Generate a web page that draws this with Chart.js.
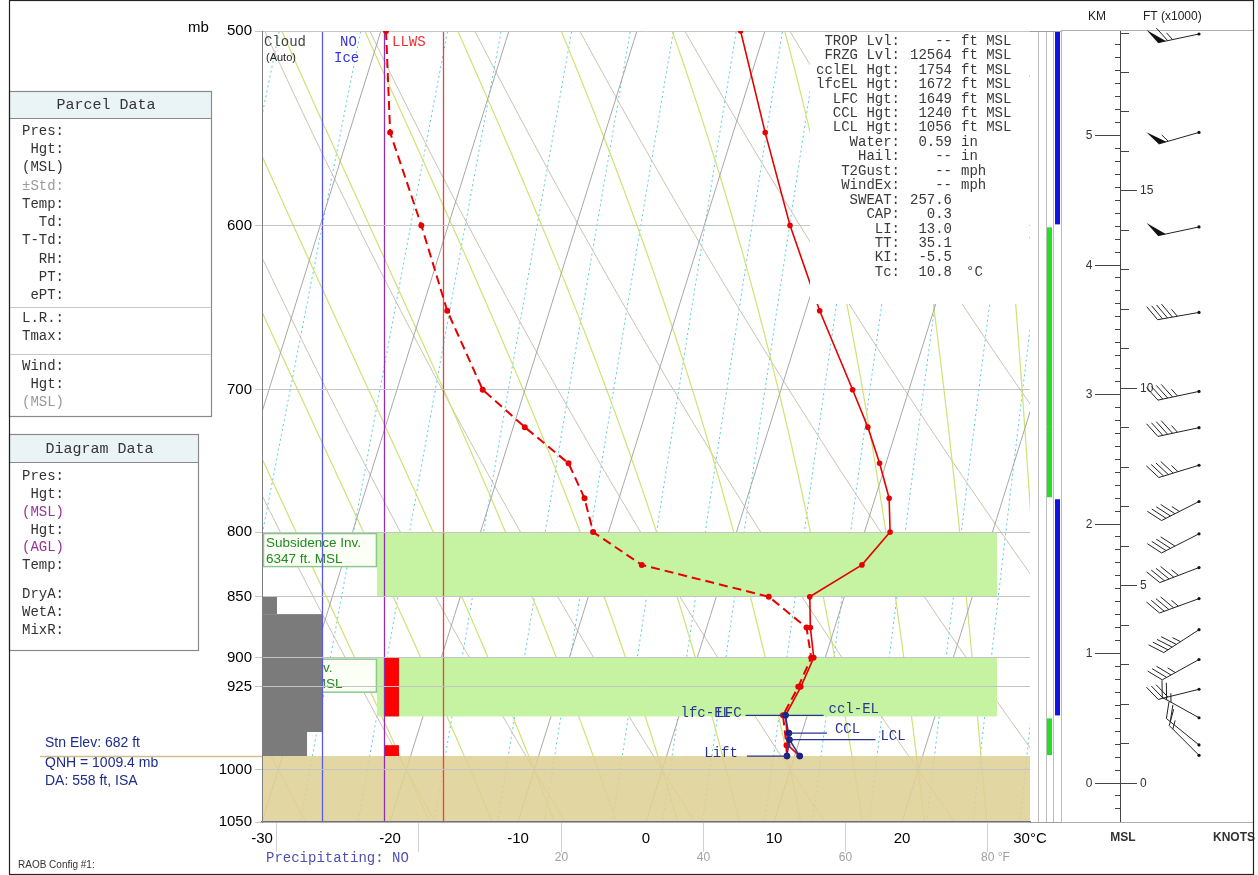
<!DOCTYPE html>
<html><head><meta charset="utf-8"><title>Skew-T</title>
<script src="https://cdn.jsdelivr.net/npm/chart.js@4.4.1/dist/chart.umd.min.js"></script>
<style>
html,body{margin:0;padding:0;background:#fff;}
#c{display:block}
</style></head><body>
<canvas id="c" width="1258" height="875"></canvas>
<script>
// ================= DATA =================
const yTicks   = [500,600,700,800,850,900,925,1000,1050];
const tempPres = [500,550,600,650,700,725,750,775,800,825,850,875,900,925,950,977,987];
const tempC    = [-11.9,-7.5,-3.3,1.1,5.6,7.7,9.5,11.1,12.0,10.6,7.3,8.1,9.1,8.8,8.3,9.2,10.4];
const dewPres  = [500,550,600,650,700,725,750,775,800,825,850,875,900,925,950,977,987];
const dewC     = [-39.6,-36.8,-32.1,-28.0,-23.3,-19.1,-14.8,-12.7,-11.2,-6.6,4.1,7.8,8.9,8.6,8.1,9.1,9.4];
const parcelPres = [987,972,950];
const parcelT    = [10.4,9.2,8.3];
const parcelDewPres = [987,972];
const parcelDewT    = [9.4,9.2];
const levelNames = ['Lift','LCL','CCL','lfc-EL'];
const levelPres  = [987,972,966,950];
const levelT     = [9.4,9.2,9.0,8.3];
const stnPres = 987;
// inversion layers (mb)
const invTop = [800,900];
const invBot = [850,951];
const invText1 = ['Subsidence Inv.','Frontal Inv.'];
const invText2 = ['6347 ft. MSL','2247 ft. MSL'];
// cloud column layers (mb) and cover extent (axis units)
const cloudTop = [850,864,965];
const cloudBot = [864,965,987];
const cloudRight = [-28.83,-25.31,-26.48];
// LLWS layers
const llwsTop = [900,977];
const llwsBot = [951,987];
// right strip bars
const stripTop = [500,600,775,951];
const stripBot = [600,775,951,987];
const stripType = ['b','g','b','g'];
// winds
const windKm  = [5.78,5.02,4.29,3.63,3.02,2.74,2.45,2.17,1.92,1.66,1.42,1.18,0.95,0.72,0.50,0.29,0.21];
const windDir = [258,254,258,260,258,258,253,243,243,249,250,237,241,256,299,309,315];
const windSpd = [65,55,50,45,45,45,45,45,40,45,45,45,35,30,25,20,15];
// background reference lines
const isotherms = [-100,-90,-80,-70,-60,-50,-40,-30,-20,-10,0,10,20,30,40];
const dryThetaC = [-70,-60,-50,-40,-30,-20,-10,0,10,20,30,40,50,60,70,80,90,100,110,120,130,140,150];
const moistStarts = [-20,-15,-10,-5,0,5,10,15,20,25,30,35];
const mixRatios = [0.1,0.2,0.4,0.6,1,1.5,2,3,4,5,7,9,12,16,20,25,30];
// text panels
const statLabels = ['TROP Lvl:','FRZG Lvl:','cclEL Hgt:','lfcEL Hgt:','LFC Hgt:','CCL Hgt:','LCL Hgt:','Water:','Hail:','T2Gust:','WindEx:','SWEAT:','CAP:','LI:','TT:','KI:','Tc:'];
const statValues = ['--','12564','1754','1672','1649','1240','1056','0.59','--','--','--','257.6','0.3','13.0','35.1','-5.5','10.8'];
const statUnits  = ['ft MSL','ft MSL','ft MSL','ft MSL','ft MSL','ft MSL','ft MSL','in','in','mph','mph','','','','','','°C'];
const parcelRows = ['Pres:','Hgt:','(MSL)','±Std:','Temp:','Td:','T-Td:','RH:','PT:','ePT:','L.R.:','Tmax:','Wind:','Hgt:','(MSL)'];
const parcelRowY = [131,149,167,186,204,222,240,259,277,295,318,336,366,384,402];
const diagRows = ['Pres:','Hgt:','(MSL)','Hgt:','(AGL)','Temp:','DryA:','WetA:','MixR:'];
const diagRowY = [476,494,512,530,547,565,594,612,630];
const fahrTicks = [-20,0,20,40,60,80];

// ================= HELPERS =================
const SKEW = 26;
function skewX(T,p){ return T + SKEW*Math.log(1050/p); }
const MONO = '"Liberation Mono","DejaVu Sans Mono",monospace';
const SANS = '"Liberation Sans",Arial,sans-serif';
function satVap(Tc){ return 6.112*Math.exp(17.67*Tc/(Tc+243.5)); }
function satMix(Tc,p){ const e=satVap(Tc); return 0.622*e/(p-e); }
function moistLapse(Tc,p){
  const T=Tc+273.15, rs=satMix(Tc,p), Rd=287.04, cp=1005.7, Lv=2.501e6, eps=0.622;
  return ((Rd*T + Lv*rs)/p)/(cp + (Lv*Lv*rs*eps)/(Rd*T*T));
}
function moistProfile(t0){
  const m={}; let T=t0; m[1000]=T;
  for(let p=1000;p>470;p--){ const k1=moistLapse(T,p); const k2=moistLapse(T-k1*0.5,p-0.5); T-=k2; m[p-1]=T; }
  T=t0; for(let p=1000;p<1070;p++){ const k1=moistLapse(T,p); const k2=moistLapse(T+k1*0.5,p+0.5); T+=k2; m[p+1]=T; }
  return p=>m[p];
}

// ================= PLUGINS =================
const bgPlugin = {
  id:'bg',
  beforeDraw(chart){
    const {ctx, chartArea:a, scales} = chart; const xs=scales.x, ys=scales.y;
    const PX=(T,p)=>xs.getPixelForValue(skewX(T,p)), PY=p=>ys.getPixelForValue(p), AX=v=>xs.getPixelForValue(v);
    ctx.save();
    ctx.beginPath(); ctx.rect(a.left,a.top,a.right-a.left,a.bottom-a.top); ctx.clip();
    const plist=[]; for(let p=480;p<=1060;p+=5) plist.push(p);
    function curve(fn,color,w,dash){
      ctx.beginPath();
      plist.forEach((p,i)=>{ const X=PX(fn(p),p), Y=PY(p); i?ctx.lineTo(X,Y):ctx.moveTo(X,Y); });
      ctx.strokeStyle=color; ctx.lineWidth=w; ctx.setLineDash(dash||[]); ctx.stroke();
    }
    mixRatios.forEach(w=>curve(p=>{ const r=w/1000; const e=r*p/(0.622+r); const l=Math.log(e/6.112); return 243.5*l/(17.67-l); }, '#55cbe4', 1, [2,3]));
    dryThetaC.forEach(tc=>curve(p=>(tc+273.15)*Math.pow(p/1000,0.2857)-273.15,'#cac2b2',1));
    moistStarts.forEach(t0=>{ const f=moistProfile(t0); curve(f,'#cfe274',1.2); });
    isotherms.forEach(T=>curve(()=>T,'#a6a6a6',1));
    ctx.setLineDash([]);
    // ground
    ctx.fillStyle='rgba(222,208,150,0.88)';
    ctx.fillRect(a.left, PY(stnPres), a.right-a.left, a.bottom-PY(stnPres));
    // inversion bands
    invTop.forEach((t,i)=>{
      ctx.fillStyle='#c6f3a2';
      ctx.fillRect(AX(-21.02), PY(t), AX(27.42)-AX(-21.02), PY(invBot[i])-PY(t));
      const y0=PY(t), h=34;
      ctx.fillStyle='#fbfff6'; ctx.fillRect(a.left+1, y0+1, AX(-21.02)-a.left-1, h);
      ctx.strokeStyle='#8cc88c'; ctx.lineWidth=1.5; ctx.strokeRect(a.left+1.5, y0+1.5, AX(-21.02)-a.left-2, h-1);
      ctx.fillStyle='#1f8a1f'; ctx.font='13.5px '+SANS; ctx.textAlign='left'; ctx.textBaseline='middle';
      ctx.fillText(invText1[i], a.left+4, y0+11); ctx.fillText(invText2[i], a.left+4, y0+27);
    });
    // cloud column
    ctx.fillStyle='#7b7b7b';
    cloudTop.forEach((t,i)=>{ ctx.fillRect(a.left, PY(t), AX(cloudRight[i])-a.left, PY(cloudBot[i])-PY(t)); });
    // LLWS bars
    ctx.fillStyle='#ff0000';
    llwsTop.forEach((t,i)=>{ ctx.fillRect(AX(-20.47), PY(t), AX(-19.30)-AX(-20.47), PY(llwsBot[i])-PY(t)); });
    // column lines
    const col=(v,c)=>{ const X=Math.round(AX(v))+0.5; ctx.beginPath(); ctx.moveTo(X,a.top); ctx.lineTo(X,a.bottom); ctx.strokeStyle=c; ctx.lineWidth=1.3; ctx.stroke(); };
    col(-25.31,'#5a5ae6'); col(-20.47,'#9030b0'); col(-15.86,'#f04040');
    ctx.restore();
    // right strip
    ctx.save();
    [1038.5,1046.5,1053.5,1061.5].forEach(X=>{ ctx.beginPath(); ctx.moveTo(X,a.top); ctx.lineTo(X,a.bottom); ctx.strokeStyle='#bdbdbd'; ctx.lineWidth=1; ctx.stroke(); });
    stripTop.forEach((t,i)=>{
      if(stripType[i]==='b'){ ctx.fillStyle='#1212e8'; ctx.fillRect(1055, PY(t)+1, 5, PY(stripBot[i])-PY(t)-2); }
      else { ctx.fillStyle='#22e022'; ctx.fillRect(1047, PY(t)+2, 5, PY(stripBot[i])-PY(t)-3); }
    });
    ctx.beginPath(); ctx.moveTo(a.right,a.top+0.5); ctx.lineTo(1061,a.top+0.5); ctx.moveTo(a.right,a.bottom+0.5); ctx.lineTo(1061,a.bottom+0.5);
    ctx.strokeStyle='#a0a0a0'; ctx.stroke();
    ctx.restore();
  },
  afterDatasetsDraw(chart){
    const {ctx, chartArea:a, scales} = chart; const xs=scales.x, ys=scales.y;
    const PX=(T,p)=>xs.getPixelForValue(skewX(T,p)), PY=p=>ys.getPixelForValue(p);
    ctx.save();
    // stats box
    ctx.fillStyle='#fff'; ctx.fillRect(810, a.top+1, a.right-810-1, 303-a.top);
    ctx.font='14px '+MONO; ctx.fillStyle='#3a3a3a'; ctx.textBaseline='middle';
    statLabels.forEach((s,i)=>{
      const Y=41+i*14.45;
      ctx.textAlign='right'; ctx.fillText(s, 900, Y); ctx.fillText(statValues[i], 952, Y);
      ctx.textAlign='left'; ctx.fillText(statUnits[i], i===16?966:961, Y);
    });
    // column headers
    ctx.textAlign='left';
    ctx.font='14px '+MONO; ctx.fillStyle='#444'; ctx.fillText('Cloud', 264, 42);
    ctx.font='11px '+SANS; ctx.fillStyle='#222'; ctx.fillText('(Auto)', 266, 58);
    ctx.font='14px '+MONO; ctx.fillStyle='#3434e0'; ctx.fillText('NO', 340, 42); ctx.fillText('Ice', 334, 58);
    ctx.fillStyle='#f03030'; ctx.fillText('LLWS', 392, 42);
    // parcel level markers lines & labels
    const lx = levelT.map((t,i)=>PX(t,levelPres[i])), ly = levelPres.map(p=>PY(p));
    ctx.strokeStyle='#2a3590'; ctx.lineWidth=1.3;
    const seg=(x1,y,x2)=>{ ctx.beginPath(); ctx.moveTo(x1,y); ctx.lineTo(x2,y); ctx.stroke(); };
    seg(lx[0]-40, ly[0], lx[0]);        // Lift
    seg(lx[1], ly[1], lx[1]+86);        // LCL
    seg(lx[2], ly[2], lx[2]+38);        // CCL
    seg(lx[3]-40, ly[3], lx[3]);        // lfc-EL / LFC
    seg(lx[3]+2, ly[3], lx[3]+38);      // ccl-EL
    ctx.font='14px '+MONO; ctx.fillStyle='#2a3590'; ctx.textBaseline='middle';
    ctx.textAlign='right'; ctx.fillText('Lift', lx[0]-49, ly[0]-3);
    ctx.fillText('LFC', lx[3]-44, ly[3]-2);
    ctx.textAlign='left'; ctx.fillText('lfc-EL', lx[3]-105, ly[3]-2);
    ctx.fillText('LCL', lx[1]+91, ly[1]-3);
    ctx.fillText('CCL', lx[2]+46, ly[2]-4); ctx.fillText('ccl-EL', lx[3]+43, ly[3]-6);
    ctx.restore();
  },
  afterDraw(chart){
    const {ctx, chartArea:a, scales} = chart; const xs=scales.x, yk=scales.yk;
    ctx.save();
    ctx.textBaseline='middle';
    // mb label
    ctx.font='15px '+SANS; ctx.fillStyle='#000'; ctx.textAlign='left'; ctx.fillText('mb', 188, 28);
    // Fahrenheit
    ctx.strokeStyle='#d0d0d0'; ctx.lineWidth=1; ctx.font='12px '+SANS; ctx.fillStyle='#a0a0a0'; ctx.textAlign='center';
    fahrTicks.forEach(f=>{ const X=Math.round(xs.getPixelForValue((f-32)*5/9))+0.5; ctx.beginPath(); ctx.moveTo(X,a.bottom+1); ctx.lineTo(X,852); ctx.stroke();
      if(f>0) ctx.fillText(f===80?'80 °F':String(f), X+(f===80?8:0), 858); });
    ctx.font='14px '+MONO; ctx.fillStyle='#5050b4'; ctx.textAlign='left'; ctx.fillText('Precipitating: NO', 266, 858);
    // left bottom texts
    ctx.font='14px '+SANS; ctx.fillStyle='#1c2c8c';
    ctx.fillText('Stn Elev: 682 ft', 45, 743); ctx.fillText('QNH = 1009.4 mb', 45, 763); ctx.fillText('DA: 558 ft, ISA', 45, 781);
    ctx.strokeStyle='#cfc08a'; ctx.lineWidth=1.5; ctx.beginPath(); ctx.moveTo(40, 756.5); ctx.lineTo(a.left, 756.5); ctx.stroke();
    ctx.font='10px '+SANS; ctx.fillStyle='#333'; ctx.fillText('RAOB Config #1:', 18, 865);
    // panels
    function panel(x,y,w,hh,h,title,rows,rowY,colors){
      ctx.fillStyle='#eaf4f7'; ctx.fillRect(x,y,w,hh);
      ctx.strokeStyle='#8a8a8a'; ctx.lineWidth=1.2; ctx.strokeRect(x+0.5,y+0.5,w,h);
      ctx.beginPath(); ctx.moveTo(x,y+hh+0.5); ctx.lineTo(x+w,y+hh+0.5); ctx.stroke();
      ctx.font='15px '+MONO; ctx.fillStyle='#333'; ctx.textAlign='center'; ctx.fillText(title, x+w/2-4, y+hh/2+1);
      ctx.font='14px '+MONO; ctx.textAlign='right';
      rows.forEach((r,i)=>{ ctx.fillStyle=colors[i]; ctx.fillText(r, 64, rowY[i]); });
    }
    const pc = parcelRows.map((r,i)=>(i===3||i===14)?'#9a9a9a':'#333');
    panel(9,91,202,27,325,'Parcel Data',parcelRows,parcelRowY,pc);
    ctx.strokeStyle='#c8c8c8'; ctx.lineWidth=1;
    [307.5,354.5].forEach(Y=>{ctx.beginPath(); ctx.moveTo(10,Y); ctx.lineTo(211,Y); ctx.stroke();});
    const dc = diagRows.map(r=>(r==='(MSL)'||r==='(AGL)')?'#993399':'#333');
    panel(9,434,189,28,216,'Diagram Data',diagRows,diagRowY,dc);
    // wind panel
    ctx.strokeStyle='#b0b0b0'; ctx.lineWidth=1;
    ctx.beginPath(); ctx.moveTo(1061,30.5); ctx.lineTo(1253,30.5); ctx.moveTo(1061,822.5); ctx.lineTo(1253,822.5); ctx.stroke();
    ctx.font='12px '+SANS; ctx.fillStyle='#222'; ctx.textAlign='left';
    ctx.fillText('KM', 1088, 17); ctx.fillText('FT (x1000)', 1143, 17);
    ctx.font='bold 12px '+SANS; ctx.fillStyle='#333';
    ctx.textAlign='center'; ctx.fillText('MSL', 1123, 838); ctx.textAlign='left'; ctx.fillText('KNOTS', 1213, 838);
    const AXK=1120.5;
    ctx.strokeStyle='#444'; ctx.beginPath(); ctx.moveTo(AXK,31); ctx.lineTo(AXK,822); ctx.stroke();
    ctx.font='12px '+SANS; ctx.fillStyle='#333';
    for(let k=-3;k<=58;k++){
      const Y=Math.round(yk.getPixelForValue(k/10))+0.5; if(Y<33||Y>820) continue;
      ctx.beginPath(); ctx.moveTo(k%10===0?1095:1115,Y); ctx.lineTo(AXK,Y); ctx.stroke();
      if(k%10===0){ ctx.textAlign='center'; ctx.fillText(String(k/10),1089,Y); }
    }
    for(let f=0;f<=19;f++){
      const Y=Math.round(yk.getPixelForValue(f*0.3048))+0.5; if(Y<33) continue;
      ctx.beginPath(); ctx.moveTo(AXK,Y); ctx.lineTo(f%5===0?1137:1129,Y); ctx.stroke();
      if(f%5===0){ ctx.textAlign='left'; ctx.fillText(String(f),1140,Y); }
    }
    // barbs
    windKm.forEach((km,i)=>{
      const x0=1199, y0=yk.getPixelForValue(km);
      const ang=windDir[i]*Math.PI/180, ux=Math.sin(ang), uy=-Math.cos(ang);
      const L=42, ex=x0+ux*L, ey=y0+uy*L;
      const c=Math.cos(Math.PI/3), s=Math.sin(Math.PI/3);
      const bx=ux*c-uy*s, by=ux*s+uy*c;
      ctx.strokeStyle='#222'; ctx.fillStyle='#111'; ctx.lineWidth=1;
      ctx.beginPath(); ctx.moveTo(x0,y0); ctx.lineTo(ex,ey); ctx.stroke();
      ctx.beginPath(); ctx.arc(x0,y0,1.6,0,Math.PI*2); ctx.fill();
      let spd=Math.round(windSpd[i]/5)*5, d=0;
      while(spd>=50){ const px=ex-ux*d, py=ey-uy*d;
        ctx.beginPath(); ctx.moveTo(px,py); ctx.lineTo(px+bx*17,py+by*17); ctx.lineTo(px-ux*8,py-uy*8); ctx.closePath(); ctx.fill();
        spd-=50; d+=10; }
      while(spd>=10){ const px=ex-ux*d, py=ey-uy*d; ctx.beginPath(); ctx.moveTo(px,py); ctx.lineTo(px+bx*17,py+by*17); ctx.stroke(); spd-=10; d+=5; }
      if(spd>=5){ if(d===0) d=5; const px=ex-ux*d, py=ey-uy*d; ctx.beginPath(); ctx.moveTo(px,py); ctx.lineTo(px+bx*9,py+by*9); ctx.stroke(); }
    });
    // outer frame
    ctx.strokeStyle='#222'; ctx.lineWidth=1.2;
    ctx.strokeRect(9.5,0.5,1244,874);
    ctx.restore();
  }
};

// ================= CHART =================
const mk=(P,T)=>P.map((p,i)=>({x:skewX(T[i],p), y:p}));
new Chart(document.getElementById('c'), {
  type:'scatter',
  data:{ datasets:[
    { label:'Temp', data:mk(tempPres,tempC), showLine:true, borderColor:'#e60000', backgroundColor:'#e60000', borderWidth:1.6, pointRadius:2, pointHoverRadius:2, order:2 },
    { label:'Dewpoint', data:mk(dewPres,dewC), showLine:true, borderColor:'#e60000', backgroundColor:'#e60000', borderWidth:2, borderDash:[9,5], pointRadius:2, order:3 },
    { label:'Parcel', data:mk(parcelPres,parcelT), showLine:true, borderColor:'#2a3590', borderWidth:1.5, pointRadius:0, order:1 },
    { label:'ParcelDew', data:mk(parcelDewPres,parcelDewT), showLine:true, borderColor:'#2a3590', borderWidth:1.5, pointRadius:0, order:1 },
    { label:'Levels', data:mk(levelPres,levelT).concat([{x:skewX(tempC[tempC.length-1],stnPres),y:stnPres}]), showLine:false, backgroundColor:'#1a2288', borderColor:'#1a2288', pointRadius:3, order:0 }
  ]},
  options:{
    responsive:false, animation:false, devicePixelRatio:1,
    layout:{ padding:{ left:212, right:228, top:31, bottom:23 } },
    plugins:{ legend:{display:false}, tooltip:{enabled:false} },
    scales:{
      x:{ type:'linear', min:-30, max:30,
          ticks:{ stepSize:10, color:'#000', padding:8, font:{family:SANS, size:15}, callback:v=>v===30?'30°C':String(v) },
          grid:{ display:false, drawTicks:false }, border:{ display:true, color:'#6e6e80', width:1.2 },
          afterFit(s){ s.height=30; } },
      y:{ type:'logarithmic', reverse:true, min:500, max:1050,
          afterBuildTicks(s){ s.ticks = yTicks.map(v=>({value:v})); },
          ticks:{ color:'#000', padding:3, font:{family:SANS, size:15}, callback:v=>String(v), autoSkip:false },
          grid:{ color:'#c4c4c4', lineWidth:1, drawTicks:true, tickLength:7 }, border:{ display:true, color:'#808080' },
          afterFit(s){ s.width=50; } },
      yk:{ type:'linear', display:false, position:'right', min:(782.5-822)/129.5, max:(782.5-31)/129.5 }
    }
  },
  plugins:[bgPlugin]
});
</script>
</body></html>
